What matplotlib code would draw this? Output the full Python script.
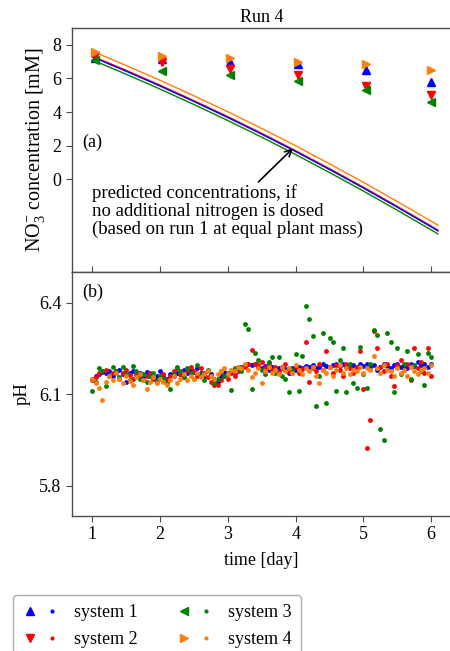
import numpy as np
import matplotlib
matplotlib.use("Agg")
import matplotlib.pyplot as plt
from matplotlib.lines import Line2D
from matplotlib.legend_handler import HandlerTuple

plt.rcParams['font.family'] = ['Liberation Serif', 'DejaVu Serif']
plt.rcParams['mathtext.fontset'] = 'custom'
plt.rcParams['mathtext.rm'] = 'Liberation Serif'
plt.rcParams['mathtext.it'] = 'Liberation Serif:italic'
plt.rcParams['font.size'] = 13

# ---------------- data ----------------
labels = ['system 1', 'system 2', 'system 3', 'system 4']
colors = ['#0000ff', '#ff0000', '#008000', '#ff7f0e']
markers = ['^', 'v', '<', '>']

# measured NO3- concentrations [mM]
meas_days = [1.04, 2.03, 3.03, 4.04, 5.04, 6.00]
no3_s1 = [7.23, 7.17, 6.97, 6.87, 6.52, 5.78]
no3_s2 = [7.36, 6.97, 6.57, 6.18, 5.58, 4.99]
no3_s3 = [7.07, 6.43, 6.22, 5.84, 5.29, 4.59]
no3_s4 = [7.56, 7.36, 7.23, 6.97, 6.87, 6.52]

# predicted concentrations
pred_days = [1.0, 1.5, 2.0, 2.5, 3.0, 3.5, 4.0, 4.5, 5.0, 5.5, 6.0, 6.1]
pred_s1 = [7.28, 6.43, 5.55, 4.63, 3.68, 2.69, 1.66, 0.59, -0.51, -1.65, -2.82, -3.06]
pred_s2 = [7.33, 6.48, 5.60, 4.68, 3.73, 2.74, 1.71, 0.64, -0.46, -1.60, -2.77, -3.01]
pred_s3 = [7.10, 6.25, 5.37, 4.45, 3.50, 2.51, 1.48, 0.41, -0.69, -1.83, -3.00, -3.24]
pred_s4 = [7.62, 6.77, 5.89, 4.97, 4.02, 3.03, 2.00, 0.93, -0.17, -1.31, -2.48, -2.72]

# pH time grid (sampling every 0.05 day)
ph_days = np.round(np.arange(1.0, 6.001, 0.05), 2)

ph_s1 = [6.150, 6.160, 6.165, 6.172, 6.168, 6.175, 6.160, 6.170, 6.178, 6.165,
         6.138, 6.170, 6.175, 6.160, 6.168, 6.155, 6.172, 6.160, 6.150, 6.158,
         6.175, 6.160, 6.150, 6.165, 6.158, 6.170, 6.165, 6.178, 6.168, 6.180,
         6.172, 6.185, 6.170, 6.160, 6.175, 6.165, 6.150, 6.140, 6.160, 6.172,
         6.165, 6.175, 6.170, 6.180, 6.190, 6.195, 6.200, 6.195, 6.198, 6.190,
         6.185, 6.192, 6.180, 6.188, 6.175, 6.185, 6.190, 6.182, 6.170, 6.185,
         6.180, 6.190, 6.185, 6.192, 6.188, 6.195, 6.185, 6.190, 6.198, 6.192,
         6.188, 6.195, 6.200, 6.192, 6.198, 6.190, 6.185, 6.195, 6.190, 6.198,
         6.192, 6.200, 6.188, 6.195, 6.180, 6.190, 6.198, 6.192, 6.185, 6.195,
         6.200, 6.190, 6.195, 6.185, 6.198, 6.192, 6.205, 6.195, 6.200, 6.188,
         6.198]

ph_s2 = [6.145, 6.155, 6.170, 6.175, 6.180, 6.160, 6.170, 6.175, 6.150, 6.168,
         6.180, 6.162, 6.150, 6.170, 6.155, 6.145, 6.160, 6.170, 6.150, 6.140,
         6.155, 6.165, 6.145, 6.160, 6.175, 6.185, 6.165, 6.155, 6.180, 6.190,
         6.175, 6.160, 6.185, 6.170, 6.155, 6.140, 6.130, 6.128, 6.145, 6.160,
         6.150, 6.170, 6.160, 6.175, 6.185, 6.190, 6.198, 6.245, 6.200, 6.195,
         6.205, 6.185, 6.200, 6.178, 6.190, 6.172, 6.185, 6.200, 6.175, 6.168,
         6.190, 6.170, 6.182, 6.272, 6.140, 6.185, 6.175, 6.200, 6.180, 6.240,
         6.190, 6.170, 6.195, 6.180, 6.160, 6.200, 6.185, 6.170, 6.190, 6.240,
         6.115, 5.924, 6.014, 6.305, 6.250, 6.190, 6.175, 6.200, 6.160, 6.125,
         6.195, 6.210, 6.180, 6.200, 6.145, 6.250, 6.185, 6.205, 6.170, 6.250,
         6.160]

ph_s3 = [6.110, 6.140, 6.185, 6.175, 6.125, 6.160, 6.190, 6.175, 6.155, 6.190,
         6.165, 6.145, 6.192, 6.175, 6.150, 6.165, 6.140, 6.160, 6.170, 6.145,
         6.160, 6.150, 6.135, 6.118, 6.165, 6.190, 6.175, 6.155, 6.185, 6.170,
         6.150, 6.195, 6.165, 6.145, 6.180, 6.160, 6.135, 6.150, 6.175, 6.160,
         6.170, 6.112, 6.185, 6.190, 6.175, 6.328, 6.312, 6.115, 6.235, 6.210,
         6.180, 6.165, 6.205, 6.220, 6.170, 6.220, 6.160, 6.150, 6.105, 6.180,
         6.230, 6.110, 6.225, 6.389, 6.345, 6.290, 6.060, 6.160, 6.300, 6.070,
         6.283, 6.270, 6.110, 6.210, 6.250, 6.105, 6.200, 6.135, 6.120, 6.255,
         6.165, 6.120, 6.200, 6.310, 6.292, 5.984, 5.950, 6.300, 6.270, 6.105,
         6.250, 6.165, 6.200, 6.240, 6.150, 6.195, 6.230, 6.175, 6.130, 6.235,
         6.220]

ph_s4 = [6.150, 6.135, 6.120, 6.080, 6.140, 6.160, 6.145, 6.170, 6.150, 6.135,
         6.160, 6.142, 6.130, 6.155, 6.165, 6.145, 6.115, 6.140, 6.155, 6.135,
         6.150, 6.140, 6.130, 6.145, 6.160, 6.135, 6.150, 6.165, 6.145, 6.160,
         6.150, 6.170, 6.155, 6.165, 6.175, 6.160, 6.150, 6.165, 6.175, 6.185,
         6.165, 6.180, 6.175, 6.190, 6.185, 6.200, 6.180, 6.155, 6.170, 6.185,
         6.135, 6.175, 6.190, 6.170, 6.180, 6.165, 6.190, 6.175, 6.185, 6.170,
         6.195, 6.178, 6.165, 6.185, 6.175, 6.190, 6.160, 6.135, 6.180, 6.170,
         6.190, 6.160, 6.180, 6.195, 6.170, 6.185, 6.165, 6.180, 6.175, 6.190,
         6.170, 6.185, 6.178, 6.225, 6.185, 6.170, 6.195, 6.180, 6.175, 6.160,
         6.185, 6.170, 6.180, 6.160, 6.190, 6.175, 6.165, 6.180, 6.185, 6.170,
         6.195]

no3 = [no3_s1, no3_s2, no3_s3, no3_s4]
pred = [pred_s1, pred_s2, pred_s3, pred_s4]
ph = [ph_s1, ph_s2, ph_s3, ph_s4]

# ---------------- figure ----------------
W, H = 450, 651
fig = plt.figure(figsize=(4.5, 6.51), dpi=100)

left = 72 / W
right = 451.5 / W
ax1 = fig.add_axes([left, 1 - 272 / H, right - left, (272 - 28) / H])
ax2 = fig.add_axes([left, 1 - 516 / H, right - left, (516 - 272) / H])

spine_col = '0.3'
for ax in (ax1, ax2):
    for s in ax.spines.values():
        s.set_color(spine_col)
        s.set_linewidth(1.0)
    ax.set_xlim(0.7, 6.3)
    ax.set_xticks([1, 2, 3, 4, 5, 6])
    ax.tick_params(axis='both', colors=spine_col, labelcolor='black',
                   length=4, width=0.8, labelsize=13)

# --- panel (a) ---
for i in [2, 1, 0, 3]:
    ax1.plot(pred_days, pred[i], color=colors[i], lw=1.0, zorder=2)
for i in range(4):
    ax1.plot(meas_days, no3[i], linestyle='none', marker=markers[i],
             color=colors[i], markersize=5.5, zorder=3)

ax1.set_ylim(-5.5, 9.0)
ax1.set_yticks([0, 2, 4, 6, 8])
ax1.tick_params(axis='x', direction='in', labelbottom=False)
ax1.set_title('Run 4', fontsize=13, pad=4)
ax1.set_ylabel(r'NO$_3^{-}$ concentration [mM]', fontsize=14.5, labelpad=4)
ax1.text(0.027, 0.53, '(a)', transform=ax1.transAxes, ha='left', va='center',
         fontsize=13)
ax1.text(1.0, -0.25, 'predicted concentrations, if\n'
         'no additional nitrogen is dosed\n'
         '(based on run 1 at equal plant mass)',
         ha='left', va='top', fontsize=13.5, linespacing=1.08)
ax1.annotate('', xy=(3.96, 1.85), xytext=(3.45, -0.15),
             arrowprops=dict(arrowstyle='->', color='black', lw=1.2,
                             shrinkA=0, shrinkB=0, mutation_scale=12))

# --- panel (b) ---
for i in range(4):
    ax2.plot(ph_days, ph[i], linestyle='none', marker='o', markersize=3.5,
             color=colors[i], markeredgewidth=0, zorder=3)
ax2.set_ylim(5.7, 6.5)
ax2.set_yticks([5.8, 6.1, 6.4])
ax2.set_yticklabels(['5.8', '6.1', '6.4'])
ax2.set_ylabel('pH', fontsize=13.5, labelpad=6)
ax2.set_xlabel('time [day]', fontsize=13, labelpad=6)
ax2.text(0.027, 0.918, '(b)', transform=ax2.transAxes, ha='left', va='center',
         fontsize=13)

# --- legend ---
handles = []
for i in range(4):
    tri = Line2D([], [], linestyle='none', marker=markers[i], color=colors[i],
                 markersize=5.5)
    dot = Line2D([], [], linestyle='none', marker='o', color=colors[i],
                 markersize=3.0, markeredgewidth=0)
    handles.append((tri, dot))
fig.legend(handles, labels, ncol=2, loc='upper left',
           bbox_to_anchor=(13 / W, 1 - 595 / H), borderaxespad=0,
           handler_map={tuple: HandlerTuple(ndivide=None, pad=0.36)},
           handlelength=2.09, fontsize=13, frameon=True, edgecolor='0.6',
           columnspacing=2.1, handletextpad=0.8, borderpad=0.5,
           labelspacing=0.55)

fig.savefig('out.png', dpi=100)
